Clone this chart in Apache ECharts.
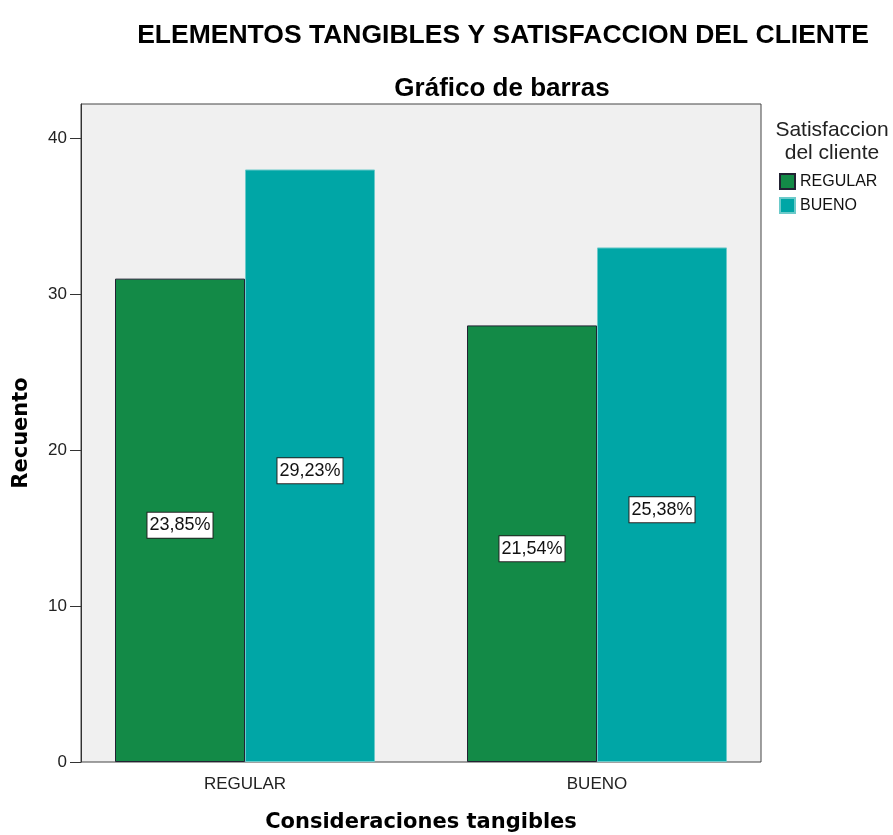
<!DOCTYPE html>
<html>
<head>
<meta charset="utf-8">
<script src="https://cdn.jsdelivr.net/npm/echarts@6/dist/echarts.min.js"></script>
<style>html,body{margin:0;padding:0;background:#fff;}#c{width:893px;height:835px;}</style>
</head>
<body>
<div id="c"></div>
<script>
const categories = ['REGULAR', 'BUENO'];
const seriesNames = ['REGULAR', 'BUENO'];
const regularValues = [31, 28];
const buenoValues = [38, 33];
const yTicks = [0, 10, 20, 30, 40];

const total = regularValues.concat(buenoValues).reduce((a, b) => a + b, 0);
const pct = v => (v / total * 100).toFixed(2).replace('.', ',') + '%';
const FONT = 'Liberation Sans, Arial, sans-serif';
const YMAX = 42.2;

const labelStyle = {
  show: true,
  position: 'inside',
  offset: [0, 5],
  formatter: p => pct(p.value),
  backgroundColor: '#ffffff',
  borderColor: '#222',
  borderWidth: 1,
  padding: [4, 2, 3, 2],
  fontSize: 18,
  fontFamily: FONT,
  color: '#111'
};

const chart = echarts.init(document.getElementById('c'));
chart.setOption({
  backgroundColor: '#ffffff',
  animation: false,
  title: [
    { text: 'ELEMENTOS TANGIBLES Y SATISFACCION DEL CLIENTE', left: 503, top: 22, textAlign: 'center', padding: 0,
      textStyle: { fontFamily: FONT, fontWeight: 'bold', fontSize: 26.5, color: '#000' } },
    { text: 'Gráfico de barras', left: 502, top: 76, textAlign: 'center', padding: 0,
      textStyle: { fontFamily: FONT, fontWeight: 'bold', fontSize: 26, color: '#000' } },
    { text: 'Satisfaccion\ndel cliente', left: 832, top: 119, textAlign: 'center', padding: 0,
      textStyle: { fontFamily: FONT, fontWeight: 'normal', fontSize: 21, color: '#222', lineHeight: 23 } }
  ],
  legend: {
    orient: 'vertical', left: 774, top: 168, itemWidth: 15, itemHeight: 15, itemGap: 7,
    icon: 'rect',
    textStyle: { fontFamily: FONT, fontSize: 16, color: '#111', padding: [0, 0, 0, 0] },
    data: seriesNames
  },
  grid: [
    { left: 69, top: 104, width: 704, height: 658, show: false, containLabel: false, outerBoundsMode: 'none' },
    { left: 81, top: 104, width: 680, height: 658, show: true, backgroundColor: '#f0f0f0', borderColor: '#444', borderWidth: 1, z: 0, containLabel: false, outerBoundsMode: 'none' }
  ],
  xAxis: [
    {
      gridIndex: 0, type: 'category', data: categories,
      name: 'Consideraciones tangibles', nameLocation: 'middle', nameGap: 50,
      nameTextStyle: { fontFamily: 'DejaVu Sans, sans-serif', fontWeight: 'bold', fontSize: 21, color: '#000' },
      axisLine: { show: false },
      axisTick: { alignWithLabel: true, length: 10, lineStyle: { color: '#333' } },
      axisLabel: { fontFamily: FONT, fontSize: 17, color: '#222', margin: 14 }
    },
    {
      gridIndex: 1, type: 'value', min: 0, max: 1, show: false
    }
  ],
  yAxis: [
    { gridIndex: 0, type: 'value', min: yTicks[0], max: YMAX, show: false, splitLine: { show: false } },
    {
      gridIndex: 1, type: 'value', min: yTicks[0], max: YMAX, interval: 10,
      name: 'Recuento', nameLocation: 'middle', nameGap: 49, nameRotate: 90,
      nameTextStyle: { fontFamily: 'DejaVu Sans, sans-serif', fontWeight: 'bold', fontSize: 21, color: '#000' },
      axisLine: { show: true, lineStyle: { color: '#333', width: 1 } },
      axisTick: { show: true, length: 11, lineStyle: { color: '#333' } },
      splitLine: { show: false },
      axisLabel: { showMaxLabel: false, fontFamily: FONT, fontSize: 17, color: '#222', margin: 14 }
    }
  ],
  series: [
    { name: seriesNames[0], type: 'bar', xAxisIndex: 0, yAxisIndex: 0, data: regularValues, barWidth: 130, barGap: '0%',
      itemStyle: { color: '#138a47', borderColor: '#223', borderWidth: 1 }, label: labelStyle },
    { name: seriesNames[1], type: 'bar', xAxisIndex: 0, yAxisIndex: 0, data: buenoValues, barWidth: 130,
      itemStyle: { color: '#00a6a6', borderColor: '#6ccaca', borderWidth: 1 }, label: labelStyle }
  ]
});
</script>
</body>
</html>
